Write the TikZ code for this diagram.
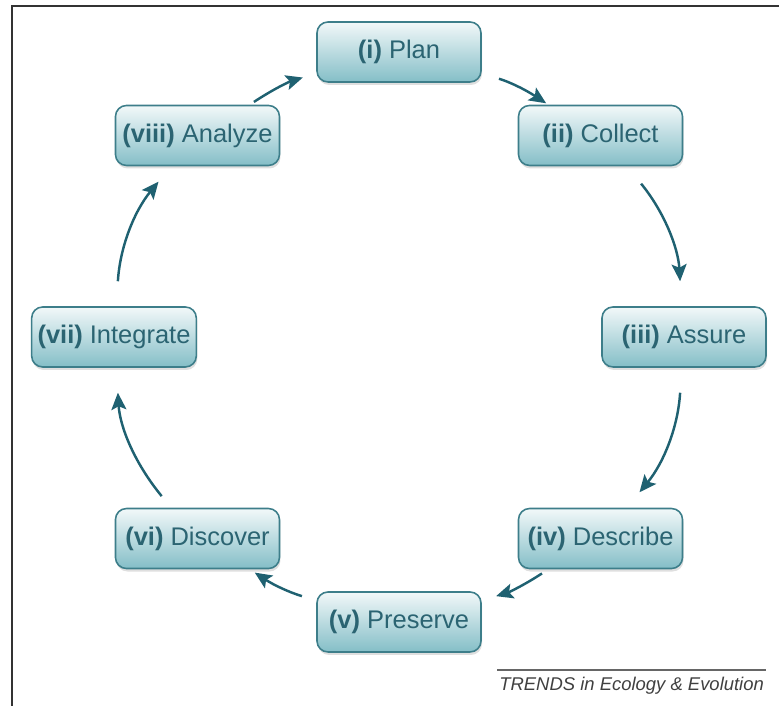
\documentclass[tikz,border=0pt]{standalone}
\usepackage{fontspec}
\newfontfamily\stagefont{Liberation Sans}
\usetikzlibrary{arrows.meta,shadows}
\definecolor{tealdark}{HTML}{1F6171}
\definecolor{tealline}{HTML}{3D7E8A}
\definecolor{tealtop}{HTML}{F2F8F9}
\definecolor{tealbot}{HTML}{84BEC7}
\definecolor{tealtext}{HTML}{2B6472}
\tikzset{
  stage/.style={draw=tealline, line width=0.9pt, rounded corners=0.22cm,
    top color=tealtop, bottom color=tealbot,
    minimum width=3.28cm, minimum height=1.2cm, text=tealtext,
    font=\stagefont\fontsize{14.5}{17}\selectfont,
    drop shadow={opacity=0.25, shadow xshift=0.02cm, shadow yshift=-0.06cm}},
  flow/.style={tealdark, line width=1.4pt, -{Stealth[length=3.4mm,width=3mm,inset=0.7mm]}},
}
\begin{document}
\begin{tikzpicture}
    \useasboundingbox (0,0) rectangle (15.58,14.12);
    \draw[line width=1.3pt, black!80] (0.24,0) -- (0.24,14.0) -- (15.58,14.0);

    \begin{scope}[shift={(7.98,7.38)}]
        \node[stage] (plan) at (90:5.7) {\textbf{(i)} Plan};
        \node[stage] (collect) at (45:5.7) {\textbf{(ii)} Collect};
        \node[stage] (assure) at (0:5.7) {\textbf{(iii)} Assure};
        \node[stage] (describe) at (-45:5.7) {\textbf{(iv)} Describe};
        \node[stage] (preserve) at (-90:5.7) {\textbf{(v)} Preserve};
        \node[stage] (discover) at (-135:5.7) {\textbf{(vi)} Discover};
        \node[stage] (integrate) at (180:5.7) {\textbf{(vii)} Integrate};
        \node[stage] (analyze) at (135:5.7) {\textbf{(viii)} Analyze};
    \end{scope}

    % cycle arrows
    \foreach \a/\b/\s/\t/\g in {plan/collect/0.36/0.05/8, collect/assure/0.45/0.5/18,
        assure/describe/0.5/0.4/18, describe/preserve/0.15/0.3/8,
        preserve/discover/0.3/0.12/8, discover/integrate/0.3/0.5/18,
        integrate/analyze/0.5/0.4/18, analyze/plan/0.1/0.28/8}
        \draw[flow, bend left=\g, shorten <=\s cm, shorten >=\t cm] (\a) to (\b);

    \node[anchor=east, inner sep=1pt, text=black!75,
        font=\stagefont\itshape\fontsize{10.5}{12}\selectfont] (credit) at (15.32,0.4) {TRENDS in Ecology \& Evolution};
    \draw[black!60, line width=0.6pt] ([yshift=3pt]credit.north west) -- ([yshift=3pt]credit.north east);
\end{tikzpicture}
\end{document}
